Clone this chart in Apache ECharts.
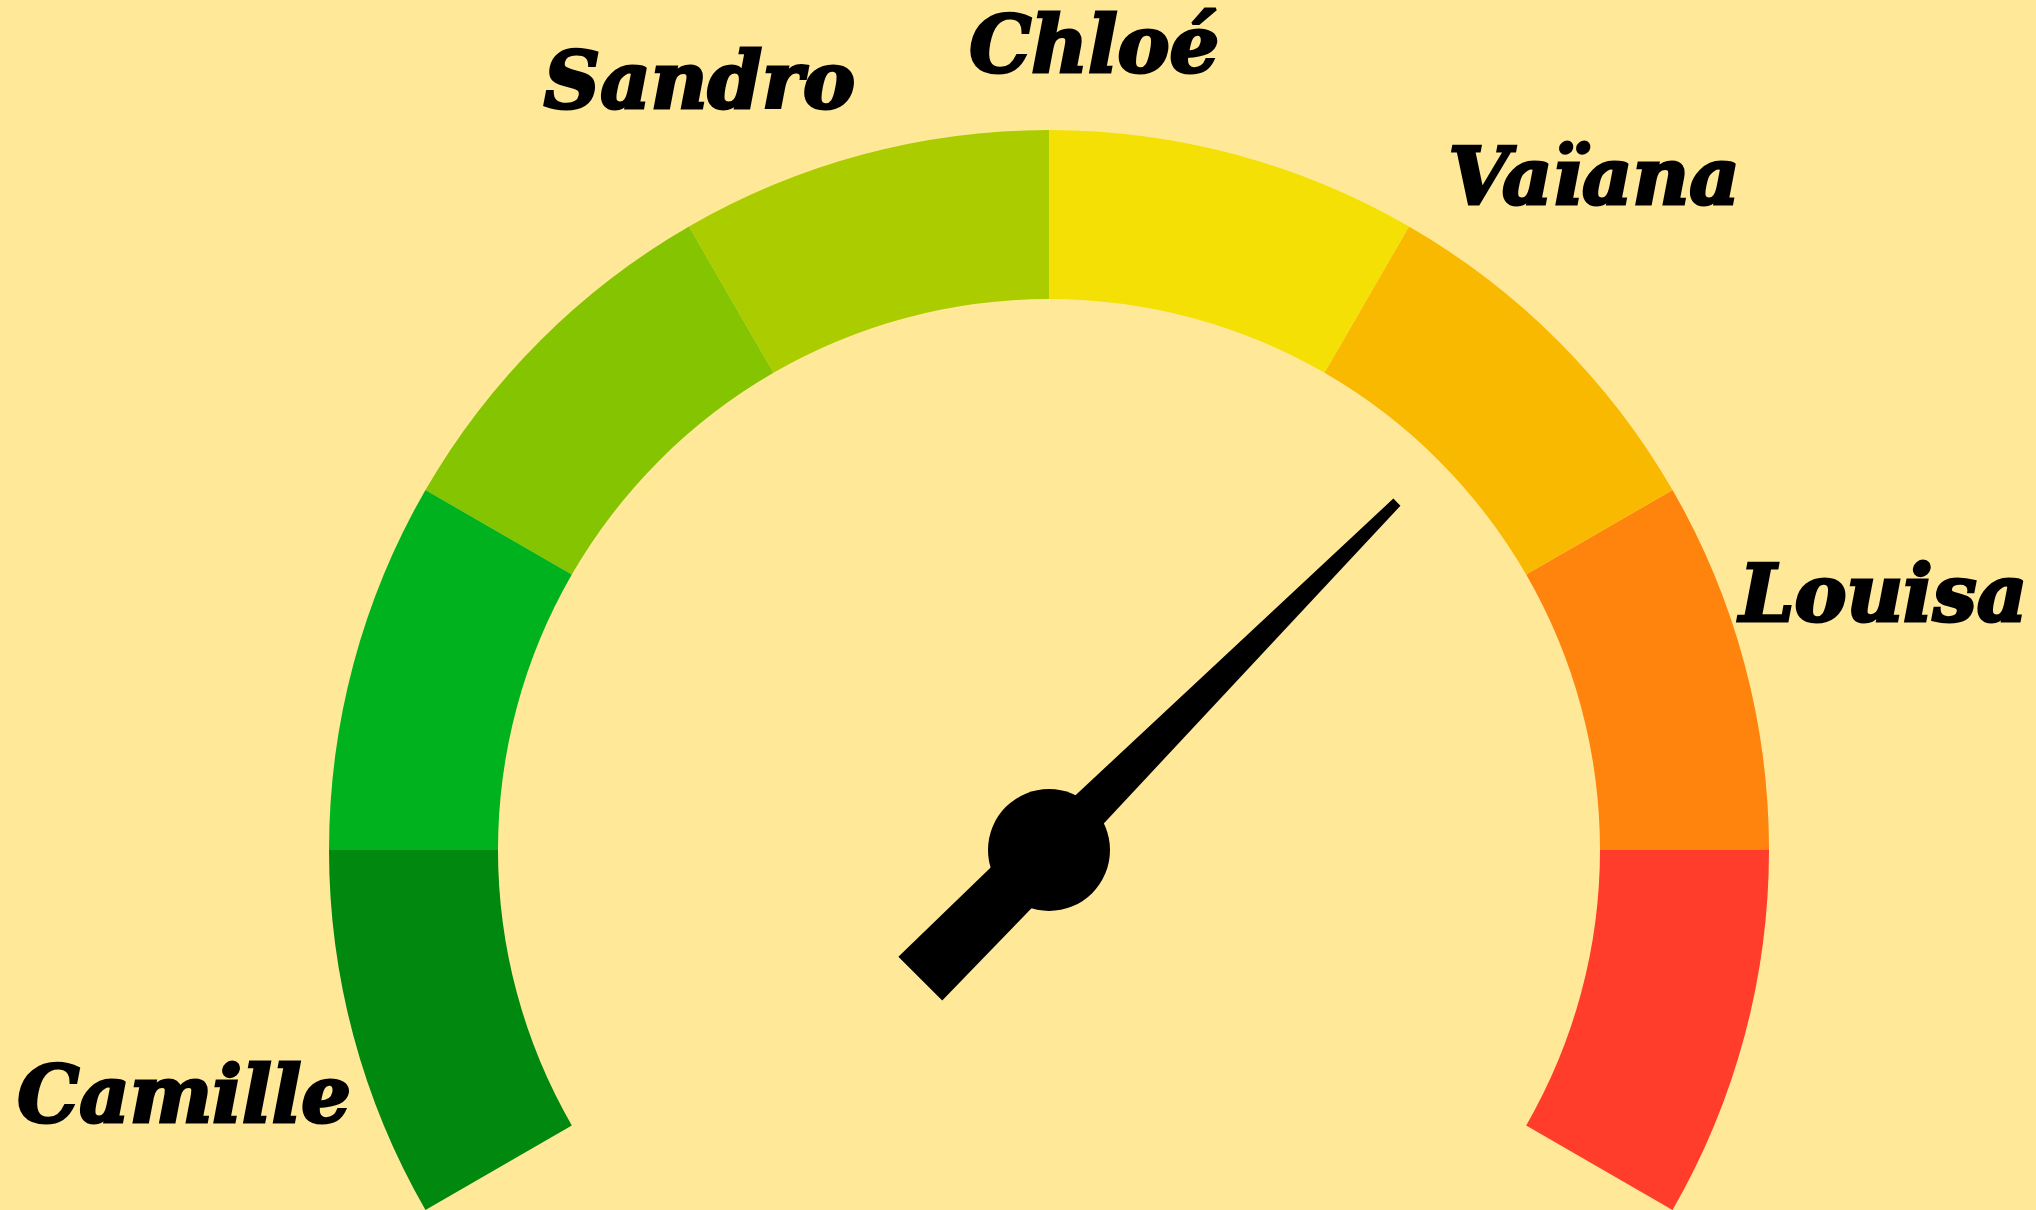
<!DOCTYPE html>
<html>
<head>
<meta charset="utf-8">
<script src="https://cdn.jsdelivr.net/npm/echarts@6/dist/echarts.min.js"></script>
<style>
html,body{margin:0;padding:0;background:#FFE999;}
#chart{width:2036px;height:1210px;}
</style>
</head>
<body>
<div id="chart"></div>
<script>
// Dial scale: 0 at the lower-left end, 240 at the lower-right end (8 bands of 30)
const dialMin = 0;
const dialMax = 240;
const bandColors = ['#00880F', '#00B31E', '#85C400', '#ABCD00', '#F4E004', '#F9B900', '#FE840D', '#FF3D2A'];
const names = ['Camille', 'Sandro', 'Chloé', 'Vaïana', 'Louisa'];
const namePositions = [14, 103, 123, 152, 193];
const needleValue = 165;

const chart = echarts.init(document.getElementById('chart'));
const cx = 1049, cy = 850, R = 720;
const bandStops = bandColors.map((c, i) => [(i + 1) / bandColors.length, c]);

const font = {
  color: '#000', fontFamily: 'DejaVu Serif', fontWeight: 'bold', fontStyle: 'italic', fontSize: 78,
  textBorderColor: '#000', textBorderWidth: 3
};
const labelPads = [[106, 6, 0, 0], [0, 278, 35, 0], [0, 0, 40, 15], [0, 0, 17, 18], [0, 0, 77, 2]];
const rich = {};
labelPads.forEach((p, i) => { rich['n' + i] = Object.assign({ padding: p }, font); });

chart.setOption({
  backgroundColor: '#FFE999',
  polar: { center: [cx, cy], radius: R },
  angleAxis: {
    type: 'value', min: 0, max: 360, interval: 1,
    startAngle: 210, clockwise: true,
    axisLine: { show: false }, axisTick: { show: false }, splitLine: { show: false },
    axisLabel: Object.assign({
      margin: 0,
      rich: rich,
      formatter: function (v) {
        const i = namePositions.indexOf(Math.round(v));
        return (i >= 0 && Math.abs(v - namePositions[i]) < 1e-6) ? '{n' + i + '|' + names[i] + '}' : '';
      }
    }, font)
  },
  radiusAxis: { show: false, min: 0, max: 1 },
  series: [{
    type: 'gauge',
    center: [cx, cy],
    radius: R,
    startAngle: 210,
    endAngle: -30,
    min: dialMin,
    max: dialMax,
    splitNumber: 8,
    axisLine: { lineStyle: { width: 169, color: bandStops } },
    axisTick: { show: false },
    splitLine: { show: false, length: 0, distance: 0 },
    axisLabel: { show: false },
    pointer: {
      icon: 'path://M-5 0 L5 0 L22 492 L28 492 L31 674 L-31 674 L-28 492 L-22 492 Z',
      length: 674,
      width: 62,
      offsetCenter: [0, 182],
      itemStyle: { color: '#000' }
    },
    anchor: { show: true, showAbove: true, size: 122, icon: 'circle', itemStyle: { color: '#000' } },
    title: { show: false },
    detail: { show: false },
    animation: false,
    data: [{ value: needleValue }]
  }]
});
</script>
</body>
</html>
